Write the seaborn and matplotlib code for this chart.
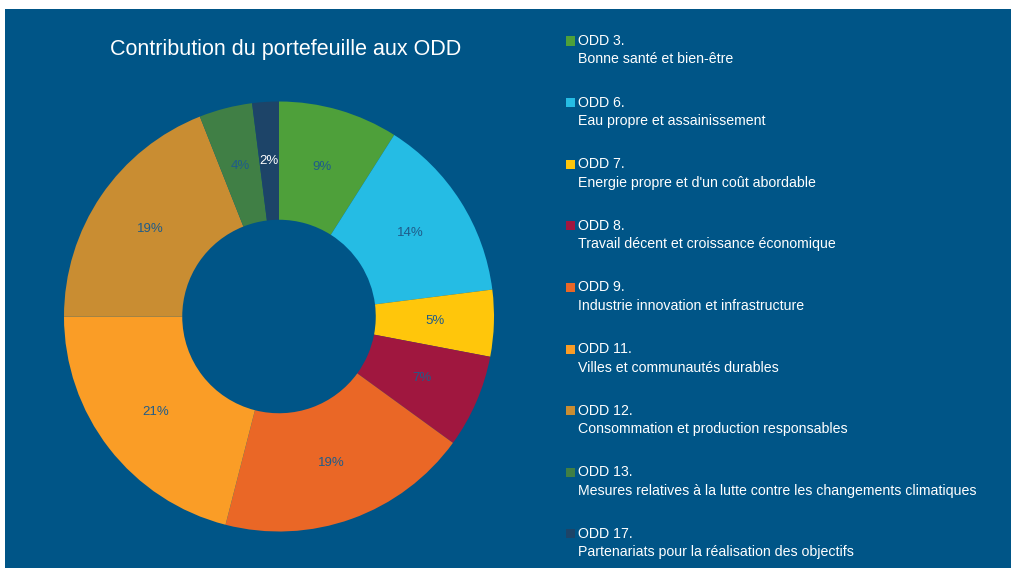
import matplotlib
matplotlib.use("Agg")
import matplotlib.pyplot as plt
import seaborn as sns
from matplotlib.patches import Rectangle

sns.set_theme(style="white")
plt.rcParams['font.family'] = ['Liberation Sans', 'DejaVu Sans']

codes = ["ODD 3.", "ODD 6.", "ODD 7.", "ODD 8.", "ODD 9.", "ODD 11.", "ODD 12.", "ODD 13.", "ODD 17."]
names = ["Bonne santé et bien-être",
         "Eau propre et assainissement",
         "Energie propre et d'un coût abordable",
         "Travail décent et croissance économique",
         "Industrie innovation et infrastructure",
         "Villes et communautés durables",
         "Consommation et production responsables",
         "Mesures relatives à la lutte contre les changements climatiques",
         "Partenariats pour la réalisation des objectifs"]
values = [9, 14, 5, 7, 19, 21, 19, 4, 2]
colors = ["#4EA03A", "#25BCE4", "#FFC60B", "#A0173F", "#EA6726",
          "#FA9D26", "#C98D32", "#407F45", "#1D4468"]
title = "Contribution du portefeuille aux ODD"

BG = "#005587"
W, H = 1011, 568
fig = plt.figure(figsize=(W / 100, H / 100), dpi=100, facecolor=BG)
# white margins at top and left
fig.patches.append(Rectangle((0, 1 - 9 / H), 1, 9 / H, transform=fig.transFigure,
                             facecolor="white", edgecolor="none", zorder=0))
fig.patches.append(Rectangle((0, 0), 5 / W, 1, transform=fig.transFigure,
                             facecolor="white", edgecolor="none", zorder=0))

cx, cy, r = 279, H - 316.5, 215
ax = fig.add_axes([(cx - r) / W, (cy - r) / H, 2 * r / W, 2 * r / H])
ax.set_zorder(5)
ax.set_facecolor("none")
wedges, texts, autotexts = ax.pie(values, colors=colors, startangle=90, counterclock=False,
                                  radius=1, wedgeprops=dict(width=0.55, edgecolor="none"),
                                  autopct=lambda p: f"{p:.0f}%", pctdistance=0.725,
                                  textprops=dict(fontsize=9.5, color="#1F5C8A"))
autotexts[-1].set_color("white")
ax.set_xlim(-1, 1)
ax.set_ylim(-1, 1)
ax.set_aspect("equal")
ax.axis("off")

fig.text(286 / W, 1 - 50 / H, title, ha="center", va="center", color="white", fontsize=15.5)

y0, dy = 41, 61.6
for i, (c, n, col) in enumerate(zip(codes, names, colors)):
    y = y0 + i * dy
    fig.patches.append(Rectangle((566 / W, 1 - (y + 4.5) / H), 9 / W, 9 / H,
                                 transform=fig.transFigure, facecolor=col,
                                 edgecolor="none", zorder=2))
    fig.text(578 / W, 1 - y / H, c, ha="left", va="center", color="white", fontsize=10.2)
    fig.text(578 / W, 1 - (y + 18.5) / H, n, ha="left", va="center", color="white", fontsize=10.2)

fig.savefig("out.png", dpi=100, facecolor=fig.get_facecolor())
